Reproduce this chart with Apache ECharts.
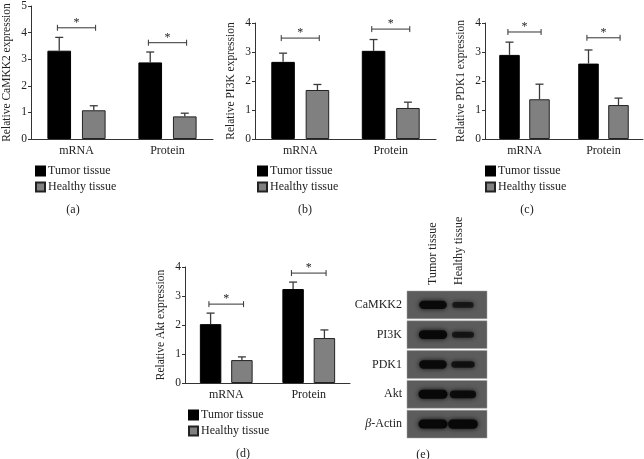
<!DOCTYPE html>
<html>
<head>
<meta charset="utf-8">
<script src="https://cdn.jsdelivr.net/npm/echarts@6/dist/echarts.min.js"></script>
<style>
  html, body { margin: 0; padding: 0; background: #fff; }
  #chart { width: 644px; height: 459px; }
</style>
</head>
<body>
<div id="chart"></div>
<script>
var categories = ['mRNA', 'Protein'];

// means and SD (upper error bar)
var camkk2Tumor = [3.32, 2.88];
var camkk2TumorSd = [0.50, 0.39];
var camkk2Healthy = [1.08, 0.85];
var camkk2HealthySd = [0.17, 0.12];
var camkk2Sig = [4.18, 3.62];

var pi3kTumor = [2.66, 3.04];
var pi3kTumorSd = [0.30, 0.39];
var pi3kHealthy = [1.69, 1.07];
var pi3kHealthySd = [0.19, 0.20];
var pi3kSig = [3.48, 3.79];

var pdk1Tumor = [2.90, 2.60];
var pdk1TumorSd = [0.44, 0.47];
var pdk1Healthy = [1.37, 1.17];
var pdk1HealthySd = [0.52, 0.24];
var pdk1Sig = [3.69, 3.49];

var aktTumor = [2.03, 3.24];
var aktTumorSd = [0.38, 0.24];
var aktHealthy = [0.79, 1.55];
var aktHealthySd = [0.11, 0.28];
var aktSig = [2.72, 3.79];

// western blot (e)
var blotRows = ['CaMKK2', 'PI3K', 'PDK1', 'Akt', 'β-Actin'];
var blotLanes = ['Tumor tissue', 'Healthy tissue'];
var bandTumor = [0.9, 0.95, 0.9, 1.0, 1.0];
var bandHealthy = [0.45, 0.5, 0.6, 0.8, 1.05];

var FONT = '"Liberation Serif", "DejaVu Serif", serif';
var TXT = '#222';
var AX = '#333';

var chart = echarts.init(document.getElementById('chart'));

var panels = [
  { name: 'Relative CaMKK2 expression', max: 5, tumor: camkk2Tumor, tumorSd: camkk2TumorSd, healthy: camkk2Healthy, healthySd: camkk2HealthySd, sig: camkk2Sig,
    grid: { left: 30, top: 5, width: 183, height: 134 }, legend: { left: 35, top: 165 } },
  { name: 'Relative PI3K expression', max: 4, tumor: pi3kTumor, tumorSd: pi3kTumorSd, healthy: pi3kHealthy, healthySd: pi3kHealthySd, sig: pi3kSig,
    grid: { left: 255, top: 23, width: 181, height: 116 }, legend: { left: 257, top: 165 } },
  { name: 'Relative PDK1 expression', max: 4, tumor: pdk1Tumor, tumorSd: pdk1TumorSd, healthy: pdk1Healthy, healthySd: pdk1HealthySd, sig: pdk1Sig,
    grid: { left: 485, top: 23, width: 158, height: 116 }, legend: { left: 485, top: 165 } },
  { name: 'Relative Akt expression', max: 4, tumor: aktTumor, tumorSd: aktTumorSd, healthy: aktHealthy, healthySd: aktHealthySd, sig: aktSig,
    grid: { left: 185, top: 267, width: 165, height: 116 }, legend: { left: 188, top: 409 } }
];

var BAR_W = 0.26, BAR_GAP = 0.46;
var OFFSET = (BAR_W + BAR_W * BAR_GAP) / 2;

function errorBars(params, api) {
  var bw = api.size([1, 0])[0];
  var side = api.value(3) === 0 ? -1 : 1;
  var base = api.coord([api.value(0), api.value(1)]);
  var top = api.coord([api.value(0), api.value(1) + api.value(2)]);
  var x = base[0] + side * OFFSET * bw;
  var style = { stroke: '#3a3a3a', lineWidth: 1.3 };
  return {
    type: 'group',
    children: [
      { type: 'line', shape: { x1: x, y1: base[1], x2: x, y2: top[1] }, style: style },
      { type: 'line', shape: { x1: x - 4, y1: top[1], x2: x + 4, y2: top[1] }, style: style }
    ]
  };
}

function sigBracket(params, api) {
  var bw = api.size([1, 0])[0];
  var p = api.coord([api.value(0), api.value(1)]);
  var x1 = p[0] - 0.21 * bw, x2 = p[0] + 0.21 * bw, y = p[1];
  var style = { stroke: AX, lineWidth: 1 };
  return {
    type: 'group',
    children: [
      { type: 'line', shape: { x1: x1, y1: y, x2: x2, y2: y }, style: style },
      { type: 'line', shape: { x1: x1, y1: y - 3, x2: x1, y2: y + 3 }, style: style },
      { type: 'line', shape: { x1: x2, y1: y - 3, x2: x2, y2: y + 3 }, style: style },
      { type: 'text', style: { text: '*', x: p[0], y: y - 5, align: 'center', verticalAlign: 'middle', fontSize: 12, fontFamily: FONT, fill: TXT } }
    ]
  };
}

var grids = [], xAxes = [], yAxes = [], legends = [], series = [];

panels.forEach(function (pn, i) {
  grids.push(pn.grid);
  xAxes.push({
    type: 'category', gridIndex: i, data: categories,
    axisLine: { lineStyle: { color: AX, width: 1 } },
    axisTick: { alignWithLabel: true, length: 3, lineStyle: { color: AX } },
    axisLabel: { margin: 6, fontSize: 12, fontFamily: FONT, color: TXT }
  });
  yAxes.push({
    type: 'value', gridIndex: i, min: 0, max: pn.max, interval: 1,
    name: pn.name, nameLocation: 'middle', nameGap: 18,
    nameTextStyle: { fontSize: 11.5, fontFamily: FONT, color: TXT },
    axisLine: { show: true, lineStyle: { color: AX, width: 1 } },
    axisTick: { show: true, length: 3, lineStyle: { color: AX } },
    axisLabel: { margin: 4, fontSize: 11.5, fontFamily: FONT, color: TXT },
    splitLine: { show: false }
  });
  legends.push({
    left: pn.legend.left, top: pn.legend.top, orient: 'vertical', padding: 0,
    itemWidth: 9, itemHeight: 9, itemGap: 4, icon: 'rect',
    data: ['Tumor tissue', 'Healthy tissue'],
    textStyle: { fontSize: 12, fontFamily: FONT, color: TXT, padding: [0, 0, 0, -2] },
    selectedMode: false
  });
  series.push({
    name: 'Tumor tissue', type: 'bar', xAxisIndex: i, yAxisIndex: i,
    barWidth: (BAR_W * 100) + '%', barGap: (BAR_GAP * 100) + '%',
    itemStyle: { color: '#000', borderColor: '#000', borderWidth: 1 },
    data: pn.tumor
  });
  series.push({
    name: 'Healthy tissue', type: 'bar', xAxisIndex: i, yAxisIndex: i,
    barWidth: (BAR_W * 100) + '%', barGap: (BAR_GAP * 100) + '%',
    itemStyle: { color: '#808080', borderColor: '#222', borderWidth: 1 },
    data: pn.healthy
  });
  var eb = [];
  pn.tumor.forEach(function (m, k) { eb.push([k, m, pn.tumorSd[k], 0]); });
  pn.healthy.forEach(function (m, k) { eb.push([k, m, pn.healthySd[k], 1]); });
  series.push({
    name: 'err' + i, type: 'custom', xAxisIndex: i, yAxisIndex: i,
    renderItem: errorBars, data: eb, z: 5, silent: true
  });
  series.push({
    name: 'sig' + i, type: 'custom', xAxisIndex: i, yAxisIndex: i,
    renderItem: sigBracket, data: pn.sig.map(function (v, k) { return [k, v]; }), z: 5, silent: true
  });
});

// blot panel
grids.push({ left: 420, top: 290, width: 52, height: 149 });
xAxes.push({
  type: 'category', gridIndex: 4, data: blotLanes, position: 'top',
  axisLine: { show: false }, axisTick: { show: false },
  axisLabel: { rotate: -90, margin: 5, fontSize: 12, fontFamily: FONT, color: TXT }
});
yAxes.push({
  type: 'category', gridIndex: 4, data: blotRows, inverse: true,
  axisLine: { show: false }, axisTick: { show: false }, splitLine: { show: false },
  axisLabel: {
    margin: 18, fontSize: 12, fontFamily: FONT, color: TXT,
    formatter: function (v) { return v.indexOf('β') === 0 ? '{i|β}' + v.slice(1) : v; },
    rich: { i: { fontStyle: 'italic', fontSize: 12, fontFamily: FONT, color: TXT } }
  }
});

series.push({
  name: 'blotBg', type: 'custom', xAxisIndex: 4, yAxisIndex: 4, silent: true,
  data: blotRows.map(function (r, k) { return [0, k]; }),
  renderItem: function (params, api) {
    var cs = params.coordSys;
    var rh = api.size([0, 1])[1];
    var c = api.coord([0, api.value(1)]);
    return {
      type: 'rect',
      shape: { x: cs.x - 13, y: c[1] - rh / 2 + 1, width: 80, height: rh - 2 },
      style: { fill: '#5c5c5c', stroke: '#a0a0a0', lineWidth: 0.5 }
    };
  }
});

var bands = [];
bandTumor.forEach(function (d, k) { bands.push([0, k, d]); });
bandHealthy.forEach(function (d, k) { bands.push([1, k, d]); });
series.push({
  name: 'bands', type: 'custom', xAxisIndex: 4, yAxisIndex: 4, silent: true, z: 3,
  data: bands,
  renderItem: function (params, api) {
    var d = api.value(2);
    var c = api.coord([api.value(0), api.value(1)]);
    var x = c[0] + (api.value(0) === 1 ? 4 : 0);
    var w = 15 + 14 * d, h = 3 + 6 * d;
    return {
      type: 'rect',
      shape: { x: x - w / 2, y: c[1] - h / 2, width: w, height: h, r: h / 2 },
      style: { fill: '#080808', opacity: 0.45 + 0.55 * Math.min(d, 1), shadowBlur: 5, shadowColor: 'rgba(0,0,0,0.9)' }
    };
  }
});

var captions = [['(a)', 73, 210], ['(b)', 305, 210], ['(c)', 527, 210], ['(d)', 243, 454], ['(e)', 423, 455]];

var option = {
  animation: false,
  textStyle: { fontFamily: FONT },
  grid: grids,
  xAxis: xAxes,
  yAxis: yAxes,
  legend: legends,
  series: series,
  graphic: captions.map(function (c) {
    return { type: 'text', x: c[1], y: c[2], style: { text: c[0], align: 'center', verticalAlign: 'middle', fontSize: 12, fontFamily: FONT, fill: TXT } };
  })
};
chart.setOption(option);
</script>
</body>
</html>
